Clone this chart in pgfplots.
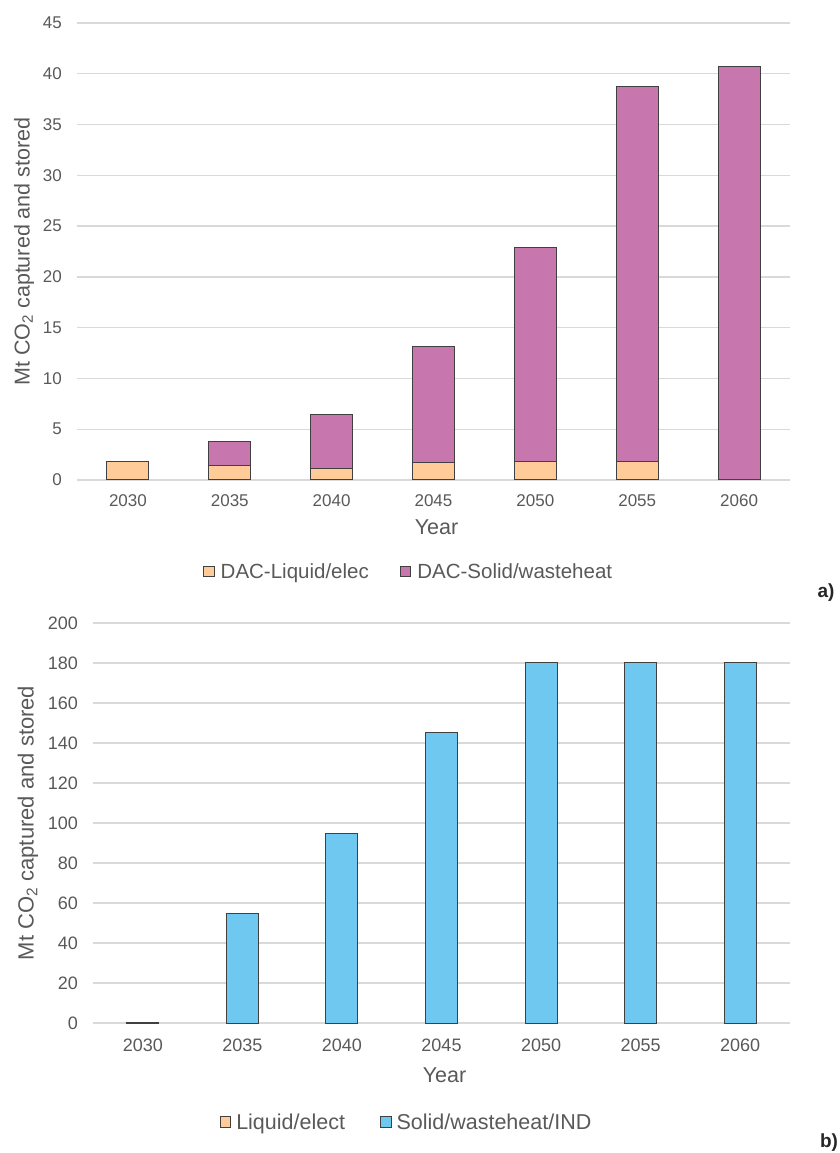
\documentclass[border=0pt]{standalone}
\usepackage{pgfplots}
\pgfplotsset{compat=1.18}
\usepackage{fontspec}
\setmainfont{Liberation Sans}

\definecolor{txtgray}{HTML}{595959}
\definecolor{gridgray}{HTML}{D9D9D9}
\definecolor{edgegray}{HTML}{404040}
\definecolor{liquidc}{HTML}{FFCC99}
\definecolor{solidc}{HTML}{C777AE}
\definecolor{indc}{HTML}{6FC8F0}

\pgfplotsset{
  dacbase/.style={
    scale only axis,
    ybar stacked,
    xmin=-0.5, xmax=6.5, ymin=0,
    xtick={0,...,6},
    xticklabels={2030,2035,2040,2045,2050,2055,2060},
    axis line style={draw=none},
    major tick length=0pt,
    ymajorgrids=true,
    major grid style={gridgray, line width=1.3pt},
    /pgf/number format/assume math mode=true,
    yticklabel style={anchor=east, inner sep=0pt, text=txtgray, xshift=-15pt},
    xticklabel style={anchor=north, inner sep=0pt, text=txtgray},
    ylabel style={anchor=center, text=txtgray},
    xlabel style={at={(axis description cs:0.5,0)}, anchor=center, text=txtgray},
    xlabel={Year},
    ylabel={Mt CO\textsubscript{2} captured and stored},
    legend columns=2,
    legend style={draw=none, fill=none, inner sep=0pt, text=txtgray},
    legend cell align=left,
    every axis plot/.append style={draw=edgegray, line width=1pt},
    legend image code/.code={%
      \draw[#1, line width=1pt] (0pt,-5pt) rectangle (10.5pt,5.5pt);},
  },
}

% data: Mt CO2 per year
\pgfplotstableread{
x  liquid solid
0  1.8    0
1  1.45   2.3
2  1.18   5.3
3  1.75   11.4
4  1.8    21.1
5  1.8    36.9
6  0      40.7
}\dactop

\pgfplotstableread{
x  liquid ind
0  0.35   0
1  0      54.5
2  0      94.5
3  0      145
4  0      180
5  0      180
6  0      180
}\dacbottom

\begin{document}
\begin{tikzpicture}
\path[use as bounding box] (0pt,0pt) rectangle (840pt,1153pt);

% panel a
\begin{scope}[shift={(77pt,673pt)}]
\begin{axis}[
  dacbase,
  at={(0pt,0pt)}, anchor=south west,
  width=713pt, height=457pt,
  bar width=42pt,
  ymax=45, ytick={0,5,...,45},
  ticklabel style={font=\fontsize{17}{20}\selectfont},
  xticklabel style={yshift=-14pt},
  ylabel style={font=\fontsize{21.5}{25}\selectfont,
    at={(axis description cs:-0.0743,0.5)}},
  xlabel style={font=\fontsize{21.5}{25}\selectfont, yshift=-47pt, xshift=3pt},
  legend style={at={(0.468,-0.2013)}, anchor=center,
    font=\fontsize{20.5}{24}\selectfont,
    nodes={inner xsep=6pt, inner ysep=0pt},
    /tikz/every even column/.append style={column sep=25pt}},
]
\addplot[fill=liquidc] table[x=x, y=liquid] {\dactop};
\addlegendentry{DAC-Liquid/elec}
\addplot[fill=solidc] table[x=x, y=solid] {\dactop};
\addlegendentry{DAC-Solid/wasteheat}
\end{axis}
\end{scope}

% panel b
\begin{scope}[shift={(93pt,130pt)}]
\begin{axis}[
  dacbase,
  at={(0pt,0pt)}, anchor=south west,
  width=697pt, height=400pt,
  bar width=32pt,
  ymax=200, ytick={0,20,...,200},
  ticklabel style={font=\fontsize{18}{21}\selectfont},
  xticklabel style={yshift=-16pt},
  ylabel style={font=\fontsize{22}{26}\selectfont,
    at={(axis description cs:-0.0933,0.5)}},
  xlabel style={font=\fontsize{21.5}{25}\selectfont, yshift=-52pt, xshift=3pt},
  legend style={at={(0.452,-0.2475)}, anchor=center,
    font=\fontsize{21.5}{25}\selectfont,
    nodes={inner xsep=5pt, inner ysep=0pt},
    /tikz/every even column/.append style={column sep=30pt}},
]
\addplot[fill=liquidc] table[x=x, y=liquid] {\dacbottom};
\addlegendentry{Liquid/elect}
\addplot[fill=indc] table[x=x, y=ind] {\dacbottom};
\addlegendentry{Solid/wasteheat/IND}
\end{axis}
\end{scope}

\node[font=\bfseries\fontsize{19}{22}\selectfont, text=black!85] at (826pt,560pt) {a)};
\node[font=\bfseries\fontsize{19}{22}\selectfont, text=black!85] at (829pt,10pt) {b)};
\end{tikzpicture}
\end{document}
